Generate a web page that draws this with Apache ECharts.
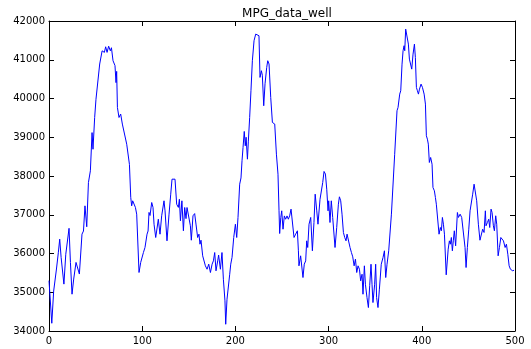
<!DOCTYPE html>
<html>
<head>
<meta charset="utf-8">
<script src="https://cdn.jsdelivr.net/npm/echarts@6/dist/echarts.min.js"></script>
<style>html,body{margin:0;padding:0;background:#fff;}#chart{width:531px;height:349px;}</style>
</head>
<body>
<div id="chart"></div>
<script>
const titleText = 'MPG_data_well';
const xTicks = [0, 100, 200, 300, 400, 500];
const yTicks = [34000, 35000, 36000, 37000, 38000, 39000, 40000, 41000, 42000];

const xs = [
0,1,3,5,8,10,11.5,13,14,16,
18,20,21.5,23,24.7,26.5,29,31,32.6,35.4,
37,38.6,40.5,42.3,44.4,46.2,47.2,49,50.4,51,
54.4,57,58.3,59.4,60.8,62.3,64,65.8,67,68.7,
70.8,71.9,72.6,73.4,75.1,76.9,78.7,80.5,83.4,86.3,
87.7,88.7,89.8,91.2,92.7,94.1,96.6,98.4,101.3,103,
104.1,105.2,106.3,107.3,108.4,110.2,111.6,112.7,114.5,115.5,
117.3,119.1,120.9,123.4,124.5,126.6,128.8,130.6,132,133.8,
135.2,137,138.8,139.9,141,142.6,144.2,145.6,147,148.1,
149.9,151.7,152.7,154.5,156.3,157.7,159.5,160.9,162,163.1,
164.9,167.8,169.6,171.4,173.2,175,176.4,177.8,179.2,181,
182,183.9,185.6,187.1,188.8,189.6,191,192.8,193.9,195,
196.4,198.2,200,201.4,202.8,204.6,206,207.1,208.2,209.5,
210.6,211.5,212.9,213.9,215.3,216.7,218.2,220,221.8,223.6,
225.3,226.4,227.9,228.9,230.4,231.8,233.6,234.7,236.1,237.9,
239.7,242.2,244,245.7,246.8,247.5,248.7,249.7,251.1,252.5,
253.9,255.4,256.8,258.2,259.7,261.1,262.9,264.7,266.5,267.6,
268.2,270,271,272.5,273.9,275.4,276.5,277.6,279,280.8,
282.6,284.3,285.6,287.3,288.6,290.8,292.2,293.7,295.1,296.6,
298,299.4,300.1,301.5,302.9,304.4,305.8,306.9,308.7,310.5,
311.6,313,314.4,315.9,317.3,318.7,319.8,321.6,323,324.5,
325.9,327.4,328.8,330.2,331.6,333.1,334.4,335.9,336.9,338.4,
339.5,341.2,342.7,344.1,345.5,346.6,347.6,349.4,350.5,351.5,
353,354.5,356.5,358.4,359.9,361.3,362.7,364.5,367.4,370.9,
373.4,374.5,376.3,377.4,378.8,379.9,381,381.7,382.7,384.1,
385.6,386.7,387.8,389.2,390.6,392.1,393.1,394.2,395.3,396.4,
397.5,399.2,400.7,402.5,403.9,404.9,406,407,408.1,409.5,
411,412,413.5,414.6,415.6,417.1,418.5,419.9,421,422.1,
423.2,424.3,426.2,428.3,429.6,430.6,431.7,432.8,433.8,434.9,
436.3,438.2,439.3,441.1,442.8,444.6,446.4,447.5,448.9,450.4,
451.8,453.2,454.6,456.1,457.5,458.9,460.7,462.4,463.9,465.3,
466.8,468.2,468.9,470.4,471.8,472.9,474.3,475.4,476.8,477.9,
479.3,480.4,481.9,483.3,484.8,486.2,487.6,489.4,490.8,492.3,
493.7,495.1,496.5,497.6,499
];

const ys = [
35300,35310,34200,35030,35600,36020,36370,35900,35900,35210,
35980,36000,36650,35770,34950,35340,35770,35740,35470,36500,
36580,37230,36690,37830,38135,39120,38690,39510,39980,40030,
40890,41230,41275,41190,41335,41190,41350,41230,41310,40975,
40850,40410,40700,39770,39510,39600,39340,39300,38820,38300,
37450,37230,37360,37360,37190,37015,35510,35770,36025,36155,
36155,36500,36580,37060,36980,37316,37190,36756,36413,36580,
36885,36498,36973,37360,37100,36327,37015,37531,37918,37950,
37918,37272,37190,37400,36844,37360,36586,37187,36900,37187,
37150,36715,36343,36973,37030,36760,36413,36500,36240,36343,
35940,35682,35594,35725,35509,35725,35810,36025,35553,35810,
35960,35594,36025,35336,34778,34174,34820,34780,35465,35725,
35900,36413,36756,36413,36930,37789,37950,38393,38735,39150,
38780,39000,38434,38900,39511,40200,40975,41491,41662,41706,
41620,40544,40717,40600,39813,40380,40802,40975,40890,40027,
39382,39340,38563,38047,37102,36516,36930,37102,36627,36970,
36885,36970,36885,36970,37145,37187,36413,36500,36586,36070,
35682,35940,35900,35380,35725,35810,36327,36155,36756,36930,
36070,36800,37531,37100,36756,37400,37440,37833,38117,38050,
37660,37102,37360,36800,37360,36930,36950,36155,36670,37272,
37463,37360,37015,36542,36413,36327,36500,36456,36155,36025,
35914,35682,35855,35509,35682,35594,35295,35465,34949,35682,
35207,34863,34605,35170,35723,35207,34734,35207,35723,34863,
34605,35080,35723,35896,36070,35380,35723,36070,37015,38560,
39684,39769,40113,40200,40887,41233,41362,41233,41791,41750,
41404,41016,41060,40758,41145,41404,41060,40286,40200,40113,
40242,40371,40286,40113,39855,39038,38951,38822,38349,38478,
38305,37703,37618,37445,37272,37272,36498,36671,36586,36930,
36756,36498,35450,36111,36327,36240,36413,36070,36327,36586,
36198,37058,36930,37015,36930,36885,36155,35638,36155,36627,
37102,37145,37531,37789,37746,37360,36756,36343,36343,36627,
36542,37102,36715,36800,36885,36670,37145,37058,36715,36586,
36973,36756,35940,36155,36413,36456,36327,36155,36240,35981,
35682,35594,35620,35553,35570
];

const seriesData = xs.map((x, i) => [x, ys[i]]);

const font = 'DejaVu Sans';
const chart = echarts.init(document.getElementById('chart'), null, {renderer: 'canvas'});

function axisCommon(extra) {
  return Object.assign({
    axisLine: {show: true, onZero: false, lineStyle: {color: '#000', width: 1}},
    axisTick: {show: true, inside: true, length: 5, lineStyle: {color: '#000', width: 1}},
    splitLine: {show: false}
  }, extra);
}
const plainFmt = (v) => String(v);

const option = {
  animation: false,
  backgroundColor: '#fff',
  title: {
    text: titleText,
    left: 282,
    top: 3,
    textAlign: 'center',
    textStyle: {fontFamily: font, fontSize: 12, fontWeight: 'normal', color: '#000'}
  },
  grid: {left: 49, right: 16, top: 21, bottom: 18, containLabel: false},
  xAxis: [
    axisCommon({
      type: 'value', position: 'bottom', min: xTicks[0], max: xTicks[xTicks.length - 1],
      interval: xTicks[1] - xTicks[0],
      axisLabel: {show: true, color: '#000', fontFamily: font, fontSize: 10, margin: 5, formatter: plainFmt}
    }),
    axisCommon({
      type: 'value', position: 'top', min: xTicks[0], max: xTicks[xTicks.length - 1],
      interval: xTicks[1] - xTicks[0],
      axisLabel: {show: false}
    })
  ],
  yAxis: [
    axisCommon({
      type: 'value', position: 'left', min: yTicks[0], max: yTicks[yTicks.length - 1],
      interval: yTicks[1] - yTicks[0],
      axisLabel: {show: true, color: '#000', fontFamily: font, fontSize: 10, margin: 4, formatter: plainFmt}
    }),
    axisCommon({
      type: 'value', position: 'right', min: yTicks[0], max: yTicks[yTicks.length - 1],
      interval: yTicks[1] - yTicks[0],
      axisLabel: {show: false}
    })
  ],
  series: [{
    type: 'line',
    xAxisIndex: 0,
    yAxisIndex: 0,
    data: seriesData,
    showSymbol: false,
    symbol: 'none',
    lineStyle: {color: '#0000ff', width: 1},
    itemStyle: {color: '#0000ff'}
  }]
};
chart.setOption(option);
</script>
</body>
</html>
